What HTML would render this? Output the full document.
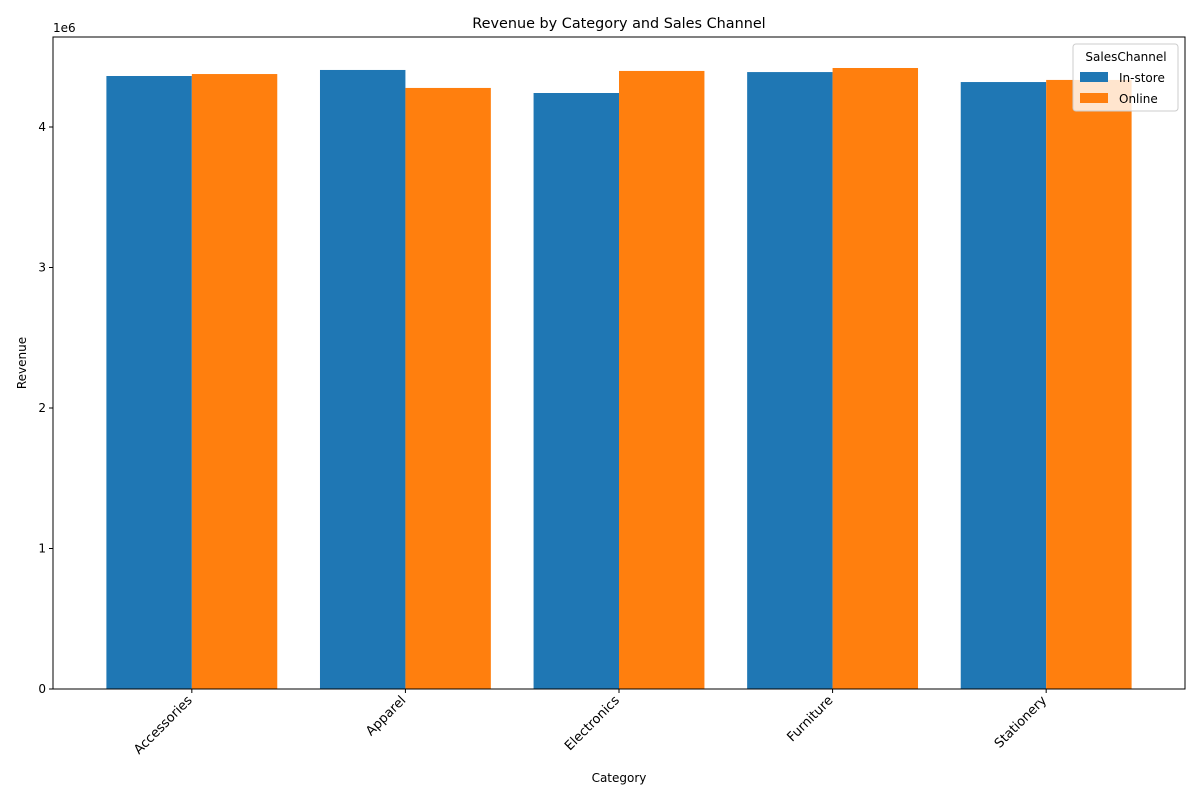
<!DOCTYPE html>
<html><head><meta charset="utf-8"><style>body{margin:0;background:#fff}svg{display:block;font-family:"DejaVu Sans","Liberation Sans",sans-serif}</style></head>
<body>
<svg id="c" width="1200" height="800"></svg>
<script>
const categories=["Accessories","Apparel","Electronics","Furniture","Stationery"];
const instore=[4.363e6,4.406e6,4.242e6,4.391e6,4.32e6];
const online=[4.377e6,4.278e6,4.399e6,4.42e6,4.335e6];
const yTicks=[0,1,2,3,4];
const L=53,R=1185,T=37,B=689,yMax=4.6406e6;
const y=v=>B-(v/yMax)*(B-T);
const x=i=>L+(i+0.65)/5.3*(R-L);
const bw=0.4/5.3*(R-L);
const s=document.getElementById('c');const NS="http://www.w3.org/2000/svg";
function el(t,a,p){const e=document.createElementNS(NS,t);for(const k in a)e.setAttribute(k,a[k]);(p||s).appendChild(e);return e;}
function tx(t,a){const e=el('text',a);e.textContent=t;return e;}
const series=[[instore,'#1f77b4',-1,'instore'],[online,'#ff7f0e',0,'online']];
series.forEach(([d,c,o,n])=>d.forEach((v,i)=>{const r=el('rect',{x:x(i)+o*bw,y:y(v),width:bw,height:B-y(v),fill:c});

}));
const ax=el('rect',{x:L,y:T,width:R-L,height:B-T,fill:'none',stroke:'#000','stroke-width':1});

yTicks.forEach(t=>{el('line',{x1:L-4,x2:L,y1:y(t*1e6),y2:y(t*1e6),stroke:'#000'});
const e=tx(String(t),{x:L-7,y:y(t*1e6)+4,'text-anchor':'end','font-size':12});
});
categories.forEach((c,i)=>{el('line',{x1:x(i),x2:x(i),y1:B,y2:B+4,stroke:'#000'});
const e=tx(c,{'text-anchor':'end','font-size':13,transform:`translate(${x(i)+1},${B+12}) rotate(-45)`});
});
let e=tx('1e6',{x:L,y:T-5,'font-size':12});
e=tx('Revenue by Category and Sales Channel',{x:(L+R)/2,y:T-9,'text-anchor':'middle','font-size':14.4});
e=tx('Category',{x:(L+R)/2,y:782,'text-anchor':'middle','font-size':12});
e=tx('Revenue',{'text-anchor':'middle','font-size':12,transform:`translate(26,${(T+B)/2}) rotate(-90)`});
const g=el('g',{});
el('rect',{x:1073,y:44,width:105,height:67,rx:3,fill:'#fff','fill-opacity':0.8,stroke:'#ccc'},g);
const lt=el('text',{x:1126,y:61,'text-anchor':'middle','font-size':12},g);lt.textContent='SalesChannel';
[['In-store','#1f77b4'],['Online','#ff7f0e']].forEach(([n,c],k)=>{el('rect',{x:1080,y:72+k*21,width:28,height:10,fill:c},g);
const t=el('text',{x:1119,y:82+k*21,'font-size':12},g);t.textContent=n;
});
</script>
</body></html>
